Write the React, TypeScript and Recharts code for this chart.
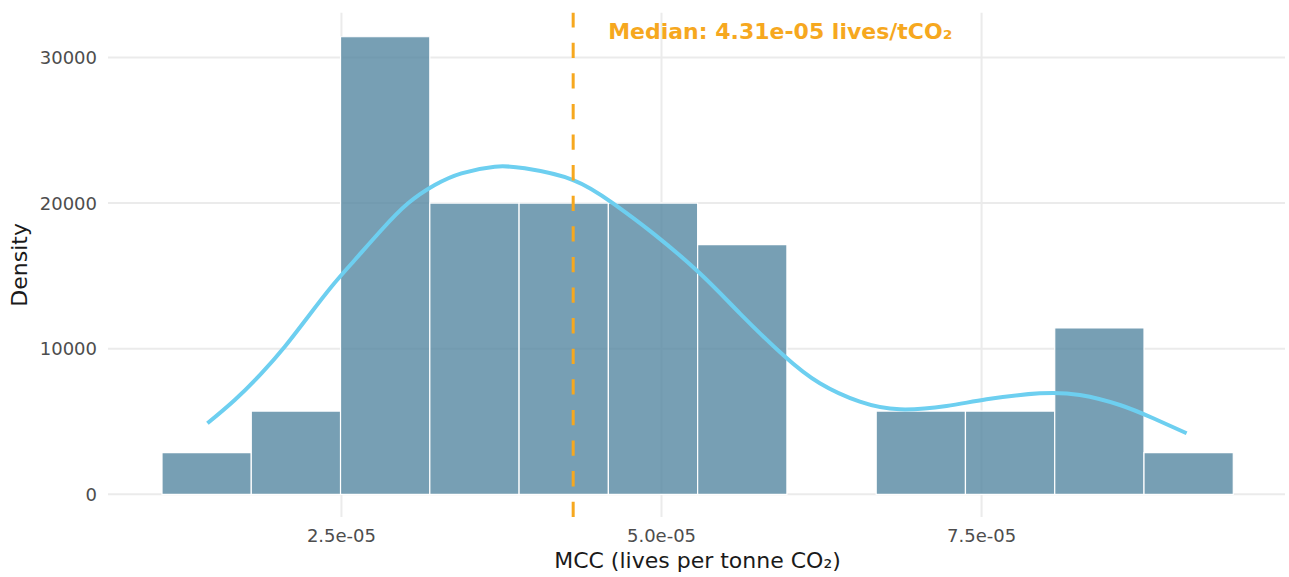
import React from 'react';
import { ComposedChart, Line, XAxis, YAxis, CartesianGrid, ReferenceArea, ReferenceLine, Label } from 'recharts';

// Histogram bins (lives per tonne CO2) and density heights
const binEdges = [1.0984e-5, 1.7957e-5, 2.493e-5, 3.1903e-5, 3.8876e-5, 4.5849e-5, 5.2822e-5, 5.9795e-5, 6.6768e-5, 7.3741e-5, 8.0714e-5, 8.7687e-5, 9.466e-5];
const binDensity = [2857, 5714, 31429, 20000, 20000, 20000, 17143, 0, 5714, 5714, 11429, 2857];

// Kernel density curve
const curveX = [
  1.4531e-5, 1.6664e-5, 1.875e-5, 2.057e-5, 2.2391e-5, 2.4219e-5, 2.6039e-5, 2.8125e-5,
  3.0203e-5, 3.2289e-5, 3.4375e-5, 3.6977e-5, 3.932e-5, 4.3094e-5, 4.6219e-5, 4.9344e-5,
  5.2992e-5, 5.6117e-5, 5.95e-5, 6.2367e-5, 6.5492e-5, 6.8617e-5, 7.2266e-5, 7.5391e-5,
  7.9555e-5, 8.268e-5, 8.5805e-5, 8.8406e-5, 9.1016e-5,
];
const curveY = [
  4876, 6477, 8310, 10137, 12198, 14258, 16092, 18152,
  19986, 21243, 22047, 22500, 22390, 21587, 19986, 17926,
  15179, 12431, 9567, 7624, 6360, 5838, 6065, 6525,
  6937, 6820, 6133, 5220, 4190,
];

const medianValue = 4.31e-5;
const medianLabel = 'Median: 4.31e-05 lives/tCO₂';

const xTicks = [2.5e-5, 5e-5, 7.5e-5];
const xTickLabels = ['2.5e-05', '5.0e-05', '7.5e-05'];
const yTicks = [0, 10000, 20000, 30000];

const xDomain = [6.766e-6, 9.87e-5];
const yDomain = [-1560, 33080];

const FONT = '"DejaVu Sans", sans-serif';
const ORANGE = '#F6A81F';

const curveData = curveX.map((x, i) => ({ x, y: curveY[i] }));

export default function App() {
  return (
    <div style={{ position: 'absolute', left: 0, top: 0, background: '#fff' }}>
      <ComposedChart
        width={1289}
        height={577}
        data={curveData}
        margin={{ top: 12.7, right: 4, bottom: 0, left: 0 }}
        style={{ fontFamily: FONT }}
      >
        <CartesianGrid stroke="#EBEBEB" strokeWidth={2} horizontalValues={yTicks} verticalValues={xTicks} />
        <XAxis
          dataKey="x"
          type="number"
          domain={xDomain}
          ticks={xTicks}
          allowDataOverflow
          axisLine={false}
          tickLine={false}
          tickSize={0}
          tickMargin={12}
          height={60}
          tick={{ fill: '#4D4D4D', fontSize: 18, fontFamily: FONT }}
          tickFormatter={(v) => xTickLabels[xTicks.indexOf(v)] ?? String(v)}
        >
          <Label
            content={({ viewBox }: any) => (
              <text
                x={viewBox.x + viewBox.width / 2 + 1}
                y={568.3}
                textAnchor="middle"
                fontSize={22}
                fontFamily={FONT}
                fill="#1a1a1a"
              >
                MCC (lives per tonne CO₂)
              </text>
            )}
          />
        </XAxis>
        <YAxis
          type="number"
          domain={yDomain}
          ticks={yTicks}
          allowDataOverflow
          axisLine={false}
          tickLine={false}
          tickSize={0}
          tickMargin={11}
          width={108}
          tick={{ fill: '#4D4D4D', fontSize: 18, fontFamily: FONT }}
        >
          <Label
            content={({ viewBox }: any) => {
              const cx = 27;
              const cy = viewBox.y + viewBox.height / 2;
              return (
                <text
                  x={cx}
                  y={cy}
                  transform={`rotate(-90 ${cx} ${cy})`}
                  textAnchor="middle"
                  fontSize={22}
                  fontFamily={FONT}
                  fill="#1a1a1a"
                >
                  Density
                </text>
              );
            }}
          />
        </YAxis>
        {binDensity.map((d, i) =>
          d > 0 ? (
            <ReferenceArea
              key={i}
              x1={binEdges[i]}
              x2={binEdges[i + 1]}
              y1={0}
              y2={d}
              fill="#5587A1"
              fillOpacity={0.8}
              stroke="#FFFFFF"
              strokeWidth={1.2}
              strokeOpacity={1}
              ifOverflow="visible"
            />
          ) : null
        )}
        <Line
          type="natural"
          dataKey="y"
          stroke="#6DCFF0"
          strokeWidth={4}
          dot={false}
          activeDot={false}
          isAnimationActive={false}
        />
        <ReferenceLine
          x={medianValue}
          stroke={ORANGE}
          strokeWidth={3}
          strokeDasharray="15.3 15.3"
          label={
            <Label
              content={({ viewBox }: any) => (
                <text
                  x={viewBox.x + 35}
                  y={38.5}
                  textAnchor="start"
                  fontSize={22}
                  fontWeight="bold"
                  fontFamily={FONT}
                  fill={ORANGE}
                >
                  {medianLabel}
                </text>
              )}
            />
          }
        />
      </ComposedChart>
    </div>
  );
}
